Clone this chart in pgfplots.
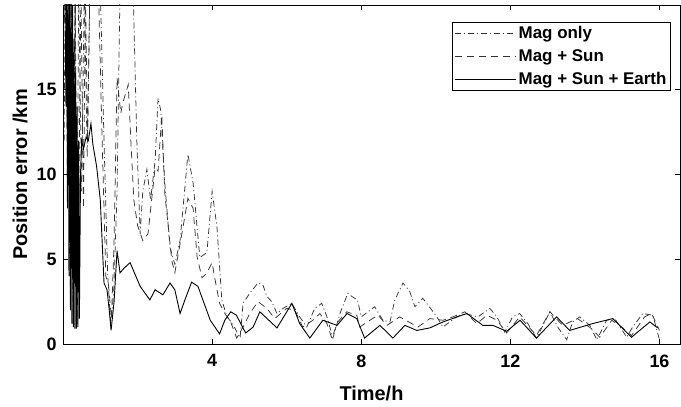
\documentclass[border=0pt]{standalone}
\usepackage{fontspec}
\setmainfont{Liberation Sans}
\usepackage{pgfplots}
\pgfplotsset{compat=1.18}

\begin{document}
\begin{tikzpicture}
\begin{axis}[
    scale only axis,
    width=617bp, height=339bp,
    xmin=0, xmax=16.55,
    ymin=0, ymax=20,
    xtick={4,8,12,16},
    ytick={0,5,10,15},
    tick align=inside,
    major tick length=5bp,
    axis line style={line width=0.8pt},
    tick style={line width=0.7pt, black},
    /pgf/number format/assume math mode=true,
    tick label style={font=\fontsize{18}{20}\selectfont\bfseries},
    label style={font=\fontsize{20}{22}\selectfont\bfseries},
    xlabel={Time/h},
    ylabel={Position error /km},
    xlabel style={at={(axis description cs:0.5,0)}, anchor=base, yshift=-56bp},
    ylabel style={at={(axis description cs:-0.057,0.5)}, anchor=south, inner sep=0pt},
    xticklabel style={yshift=-7bp},
    yticklabel style={xshift=-3bp},
    legend style={at={(0.985,0.95)}, anchor=north east, draw=black, line width=0.6pt,
        font=\fontsize{17}{18}\selectfont\bfseries, inner sep=1.5bp,
        row sep=4.5bp, cells={anchor=west}, nodes={inner sep=2.5bp}},
    legend image code/.code={\draw[#1] (0bp,0bp) -- (61bp,0bp);},
]
% Mag only
\addplot[black!80, line width=0.75pt, dash pattern=on 6bp off 3bp on 1bp off 3bp] coordinates {
(0.03,12)(0.06,21)(0.1,14)(0.14,21)(0.18,4)(0.22,21)(0.27,1.2)(0.32,21)(0.37,2)(0.42,21)
(0.5,9)(0.57,21)(0.65,11)(0.72,21)(1.0,21)(1.1,12)(1.2,4)(1.28,1.2)(1.36,3)(1.45,9)
(1.53,21)(1.88,21)(1.98,12)(2.07,6.5)(2.14,9)(2.25,10.3)(2.35,8.5)(2.47,10.8)(2.55,14.5)(2.62,13.8)
(2.73,9.5)(2.87,5.7)(3.0,4.7)(3.14,6.1)(3.35,11.2)(3.49,9.5)(3.67,5.1)(3.86,5.4)(4.0,9.0)(4.13,6.9)
(4.26,2.6)(4.4,1.6)(4.55,1.2)(4.75,0.35)(4.83,2.4)(5.01,3.0)(5.23,3.6)(5.36,3.5)(5.47,2.8)(5.6,2.5)
(5.74,1.8)(5.9,2.1)(6.14,2.4)(6.35,1.6)(6.54,1.0)(6.75,2.1)(6.94,2.4)(7.08,1.6)(7.24,0.35)(7.43,1.8)
(7.64,3.0)(7.75,2.8)(7.9,2.6)(8.0,1.6)(8.36,2.2)(8.58,1.4)(8.77,1.3)(8.9,2.6)(9.12,3.6)(9.3,3.1)
(9.44,2.2)(9.65,2.7)(9.79,2.3)(10.03,1.6)(10.19,1.0)(10.56,1.6)(10.78,1.8)(11.13,1.6)(11.45,2.1)(11.64,1.6)
(11.85,0.7)(12.06,1.6)(12.25,1.8)(12.47,1.2)(12.7,0.35)(13.06,1.9)(13.27,1.0)(13.51,0.25)(13.67,1.3)(13.86,1.6)
(14.13,1.1)(14.32,0.25)(14.58,1.4)(14.8,1.5)(15.12,0.4)(15.28,1.0)(15.55,1.8)(15.82,1.7)(16.0,0.25)
};
\addlegendentry{Mag only}
% Mag + Sun
\addplot[black!80, line width=0.75pt, dash pattern=on 7bp off 5bp] coordinates {
(0.03,19)(0.08,21)(0.12,9)(0.16,21)(0.2,2)(0.24,21)(0.28,1.5)(0.33,21)(0.38,1.2)(0.43,10)
(0.48,21)(0.55,8)(0.6,21)(0.66,12)(0.72,21)(0.95,21)(1.05,12)(1.15,4)(1.22,3.5)(1.3,1.5)
(1.37,6)(1.45,15.7)(1.55,13.6)(1.6,14.2)(1.75,15.3)(1.82,12)(1.9,8.5)(2.0,7)(2.14,6.1)(2.28,6.5)
(2.47,10.4)(2.55,10.2)(2.65,13.5)(2.73,8.9)(2.92,4.9)(3.0,4.2)(3.22,6.9)(3.35,8.6)(3.49,8.0)(3.6,5.1)
(3.73,3.9)(3.86,4.2)(4.0,4.8)(4.07,3.9)(4.2,2.4)(4.34,1.8)(4.48,1.4)(4.66,0.35)(4.83,1.0)(5.01,1.8)
(5.23,2.5)(5.47,2.1)(5.68,1.5)(6.0,2.1)(6.22,2.0)(6.43,1.0)(6.7,1.4)(6.89,1.8)(7.08,1.2)(7.21,0.35)
(7.37,1.3)(7.61,1.9)(7.88,1.7)(7.96,1.0)(8.23,1.4)(8.45,1.7)(8.69,1.1)(9.03,1.6)(9.52,1.0)(9.84,1.5)
(10.19,1.4)(10.46,1.6)(10.78,1.9)(11.1,1.2)(11.37,1.7)(11.64,1.4)(11.9,0.65)(12.25,1.6)(12.7,0.5)(13.06,1.9)
(13.4,1.1)(13.8,1.5)(14.18,0.9)(14.4,0.4)(14.72,1.4)(15.01,0.95)(15.25,0.5)(15.6,1.6)(15.79,1.8)(16.0,0.8)
};
\addlegendentry{Mag + Sun}
% Mag + Sun + Earth
\addplot[black, line width=0.9pt] coordinates {
(0.05,21)(0.08,14)(0.1,21)(0.12,8)(0.14,21)(0.16,4)(0.18,21)(0.2,2)(0.22,21)(0.24,1.2)
(0.26,20)(0.28,1.0)(0.3,18)(0.32,0.9)(0.34,16)(0.36,0.9)(0.38,14)(0.40,1.0)(0.42,12)(0.44,1.5)
(0.47,10)(0.5,12)(0.55,11.5)(0.62,12.2)(0.68,12.0)(0.75,13.0)
(0.8,11.8)(0.9,10.5)(1.0,8.5)(1.1,3.6)(1.18,3.2)(1.24,2.0)(1.29,0.8)(1.37,2.5)(1.45,5.5)(1.53,4.2)
(1.65,4.5)(1.8,4.8)(2.07,3.4)(2.33,2.6)(2.47,3.2)(2.68,2.9)(2.87,3.6)(3.0,3.2)(3.14,1.8)(3.27,2.6)
(3.45,3.65)(3.62,3.4)(3.95,1.4)(4.2,0.6)(4.34,1.4)(4.5,1.9)(4.65,1.7)(4.9,0.65)(5.1,1.0)(5.28,1.9)
(5.74,0.95)(6.14,2.4)(6.35,1.2)(6.62,0.35)(6.97,1.4)(7.35,1.1)(7.62,1.8)(7.88,1.5)(8.09,0.35)(8.5,1.1)
(8.85,0.35)(9.17,1.1)(9.49,0.8)(9.84,0.95)(10.19,1.3)(10.83,1.8)(11.26,1.1)(11.53,1.1)(11.9,0.75)(12.26,1.4)
(12.7,0.35)(13.24,1.6)(13.59,0.8)(14.2,1.2)(14.75,1.5)(15.25,0.4)(15.74,1.3)(15.95,0.95)
};
\addlegendentry{Mag + Sun + Earth}
\end{axis}
\pgfresetboundingbox
\path ([shift={(-63bp,-63bp)}]current axis.south west) rectangle ([shift={(1bp,5bp)}]current axis.north east);
\end{tikzpicture}
\end{document}
